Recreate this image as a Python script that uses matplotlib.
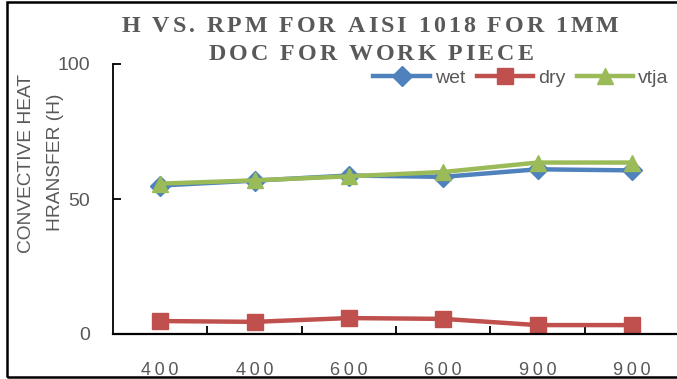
import numpy as np
import matplotlib.pyplot as plt
from matplotlib.patches import Rectangle
from matplotlib.font_manager import FontProperties

# data
rpm_labels = ["400", "400", "600", "600", "900", "900"]
wet = [55.0, 56.8, 58.7, 58.2, 61.0, 60.6]
dry = [4.8, 4.5, 5.9, 5.6, 3.3, 3.3]
vtja = [55.7, 56.9, 58.4, 60.0, 63.5, 63.5]

grey = "#595959"
W, H = 677, 379

fig = plt.figure(figsize=(W / 100, H / 100), dpi=100)
ax = fig.add_axes([113 / W, 1 - 334 / H, 566 / W, 270 / H])

x = np.arange(len(rpm_labels))
ax.plot(x, wet, color="#4F81BD", lw=3.2, marker="D", ms=10, label="wet")
ax.plot(x, dry, color="#C0504D", lw=3.2, marker="s", ms=12, label="dry")
ax.plot(x, vtja, color="#9BBB59", lw=3.2, marker="^", ms=12, label="vtja")

ax.set_xlim(-0.5, len(rpm_labels) - 0.5)
ax.set_ylim(0, 100)
ax.set_yticks([0, 50, 100])
ax.set_xticks(x)
# letter-spaced tick labels, like the original
ax.set_xticklabels(["\u2009".join(s) for s in rpm_labels],
                   family=["Liberation Sans", "DejaVu Sans"])
ax.set_xticks(np.arange(0.5, len(rpm_labels) - 0.5, 1), minor=True)
ax.tick_params(axis="x", which="major", length=0, pad=20, labelsize=13, labelcolor=grey)
ax.tick_params(axis="x", which="minor", length=6, width=1.3, direction="in")
ax.tick_params(axis="y", length=6, width=1.3, direction="in", labelsize=14,
               labelcolor=grey, pad=16.5)
for lab in ax.get_yticklabels():
    lab.set_fontfamily("Liberation Sans")

for s in ["top", "right"]:
    ax.spines[s].set_visible(False)
ax.spines["left"].set_linewidth(1.3)
ax.spines["bottom"].set_linewidth(1.6)


def tracked_text(s, xc, ybase, track, prop, color):
    # draw a centred line of text with extra space between letters (pixels)
    r = fig.canvas.get_renderer()
    widths = [r.get_text_width_height_descent(c, prop, ismath=False)[0] for c in s]
    total = sum(widths) + track * (len(s) - 1)
    xpos = xc - total / 2
    for c, w in zip(s, widths):
        fig.text(xpos / W, 1 - ybase / H, c, fontproperties=prop, color=color,
                 ha="left", va="baseline")
        xpos += w + track


title_prop = FontProperties(family="Liberation Serif", weight="bold", size=17.3)
tracked_text("H VS. RPM FOR AISI 1018 FOR 1MM", 370, 32, 3, title_prop, grey)
tracked_text("DOC FOR WORK PIECE", 371, 60, 3, title_prop, grey)

fig.text(27 / W, 1 - 163 / H, "CONVECTIVE HEAT", rotation=90, ha="center",
         va="center", fontsize=13.8, color=grey, family="Liberation Sans")
fig.text(56 / W, 1 - 162 / H, "HRANSFER (H)", rotation=90, ha="center",
         va="center", fontsize=13.8, color=grey, family="Liberation Sans")

leg = ax.legend(loc="center", bbox_to_anchor=(521 / W, 1 - 78 / H),
                bbox_transform=fig.transFigure, ncol=3, frameon=False,
                fontsize=14, handlelength=2.9, columnspacing=0.6,
                handletextpad=0.25, borderpad=0)
for t in leg.get_texts():
    t.set_color(grey)
    t.set_fontfamily("Liberation Sans")

fig.patches.append(Rectangle((7 / W, 2 / H), 1.0, 375 / H, transform=fig.transFigure,
                             fill=False, edgecolor="black", lw=1.8))

fig.savefig("out.png", dpi=100)
